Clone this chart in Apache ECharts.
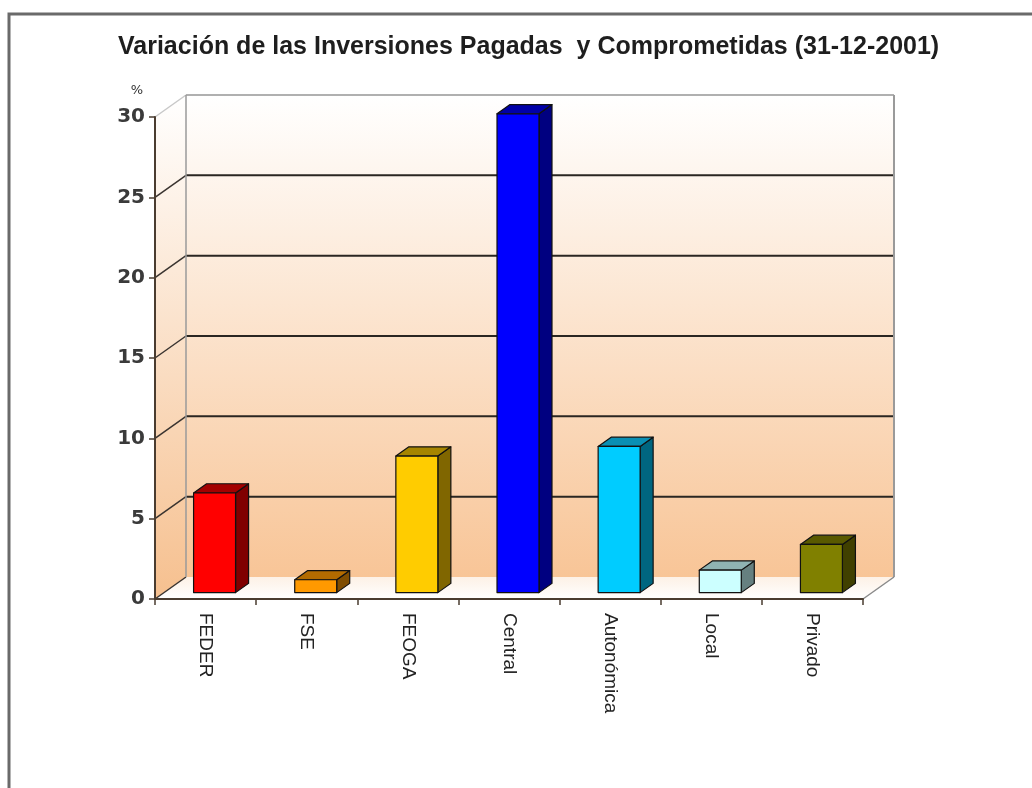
<!DOCTYPE html>
<html>
<head>
<meta charset="utf-8">
<script src="https://cdn.jsdelivr.net/npm/echarts@6/dist/echarts.min.js"></script>
<style>
  html, body { margin: 0; padding: 0; background: #fff; }
  #chart { width: 1032px; height: 788px; }
</style>
</head>
<body>
<div id="chart"></div>
<script>
// data
var categories = ['FEDER', 'FSE', 'FEOGA', 'Central', 'Autonómica', 'Local', 'Privado'];
var values = [6.2, 0.8, 8.5, 29.8, 9.1, 1.4, 3.0];
var yTicks = [0, 5, 10, 15, 20, 25, 30];

// bar palette: front / side / top
var frontColors = ['#ff0000', '#ff9900', '#ffcc00', '#0000ff', '#00ccff', '#ccffff', '#808000'];
var sideColors = ['#800000', '#804d00', '#806600', '#000080', '#006680', '#668080', '#404000'];
var topColors = ['#a30000', '#b36b00', '#a68500', '#0000a8', '#0a8fb3', '#8fb3b3', '#595900'];

// 3d depth vector (px) of the box
var D = [31, -22];

var chart = echarts.init(document.getElementById('chart'));

function renderWalls(params, api) {
	var cs = params.coordSys;
	var x0 = cs.x, x1 = cs.x + cs.width;
	var yTop = api.coord([0, 30])[1];
	var yBot = api.coord([0, 0])[1];
	var children = [];
	var grad = new echarts.graphic.LinearGradient(0, 0, 0, 1, [
		{offset: 0, color: '#ffffff'},
		{offset: 1, color: '#f8c597'}
	]);
	// back wall
	children.push({
		type: 'polygon',
		shape: {points: [[x0 + D[0], yTop + D[1]], [x1 + D[0], yTop + D[1]], [x1 + D[0], yBot + D[1]], [x0 + D[0], yBot + D[1]]]},
		style: {fill: grad, stroke: null}
	});
	// left wall
	children.push({
		type: 'polygon',
		shape: {points: [[x0, yTop], [x0 + D[0], yTop + D[1]], [x0 + D[0], yBot + D[1]], [x0, yBot]]},
		style: {fill: new echarts.graphic.LinearGradient(0, 0, 0, 1, [
			{offset: 0, color: '#ffffff'},
			{offset: 1, color: '#f6c08f'}
		]), stroke: null}
	});
	// floor
	children.push({
		type: 'polygon',
		shape: {points: [[x0, yBot], [x1, yBot], [x1 + D[0], yBot + D[1]], [x0 + D[0], yBot + D[1]]]},
		style: {fill: new echarts.graphic.LinearGradient(0, 0, 0, 1, [
			{offset: 0, color: '#fdf1e6'},
			{offset: 1, color: '#ffffff'}
		]), stroke: null}
	});
	// gridlines on back wall + left wall diagonals
	yTicks.forEach(function (v) {
		var y = api.coord([0, v])[1];
		var light = v === 30;
		if (v > 0) {
			children.push({
				type: 'line',
				shape: {x1: x0 + D[0], y1: y + D[1], x2: x1 + D[0], y2: y + D[1]},
				style: {stroke: light ? '#b0b0b0' : '#2a2622', lineWidth: 2}
			});
		}
		children.push({
			type: 'line',
			shape: {x1: x0, y1: y, x2: x0 + D[0], y2: y + D[1]},
			style: {stroke: light ? '#c8c8c8' : '#3a3430', lineWidth: 1.5}
		});
	});
	// wall edges
	children.push({
		type: 'line',
		shape: {x1: x0 + D[0], y1: yTop + D[1], x2: x0 + D[0], y2: yBot + D[1]},
		style: {stroke: '#9a9a9a', lineWidth: 1.5}
	});
	children.push({
		type: 'line',
		shape: {x1: x1 + D[0], y1: yTop + D[1], x2: x1 + D[0], y2: yBot + D[1]},
		style: {stroke: '#9a9a9a', lineWidth: 2}
	});
	children.push({
		type: 'line',
		shape: {x1: x1, y1: yBot, x2: x1 + D[0], y2: yBot + D[1]},
		style: {stroke: '#8a8a8a', lineWidth: 1.5}
	});
	return {type: 'group', children: children};
}

function renderBar(params, api) {
	var i = api.value(0);
	var band = api.size([1, 0])[0];
	var base = api.coord([i, 0]);
	var top = api.coord([i, api.value(1)]);
	var w = band * 0.415;
	var f = 0.29, b = 0.71;
	var x0 = base[0] - w / 2 + D[0] * f, x1 = x0 + w;
	var yb = base[1] + D[1] * f, yt = top[1] + D[1] * f;
	var dx = D[0] * (b - f), dy = D[1] * (b - f);
	var edge = {stroke: '#111', lineWidth: 1.2, lineJoin: 'round'};
	return {
		type: 'group',
		children: [{
			type: 'polygon',
			shape: {points: [[x1, yt], [x1 + dx, yt + dy], [x1 + dx, yb + dy], [x1, yb]]},
			style: Object.assign({fill: sideColors[i]}, edge)
		}, {
			type: 'polygon',
			shape: {points: [[x0, yt], [x0 + dx, yt + dy], [x1 + dx, yt + dy], [x1, yt]]},
			style: Object.assign({fill: topColors[i]}, edge)
		}, {
			type: 'polygon',
			shape: {points: [[x0, yt], [x1, yt], [x1, yb], [x0, yb]]},
			style: Object.assign({fill: frontColors[i]}, edge)
		}]
	};
}

chart.setOption({
	animation: false,
	title: {
		text: 'Variación de las Inversiones Pagadas  y Comprometidas (31-12-2001)',
		left: 113,
		top: 30,
		textStyle: {
			fontFamily: 'Liberation Sans',
			fontWeight: 'bold',
			fontSize: 25,
			color: '#1e1e1e'
		}
	},
	graphic: [{
		type: 'polyline',
		shape: {points: [[9, 788], [9, 14], [1032, 14]]},
		style: {stroke: '#6a6a6a', lineWidth: 3, fill: null}
	}],
	grid: {
		left: 155,
		right: 169,
		top: 117,
		bottom: 189
	},
	xAxis: {
		type: 'category',
		data: categories,
		boundaryGap: true,
		axisLine: {lineStyle: {color: '#4a3c30', width: 2}},
		axisTick: {show: true, length: 6, lineStyle: {color: '#4a3c30', width: 1.5}},
		axisLabel: {
			rotate: -90,
			margin: 14,
			fontFamily: 'Liberation Sans',
			fontSize: 19,
			color: '#222'
		},
		splitLine: {show: false},
		z: 5
	},
	yAxis: {
		type: 'value',
		min: 0,
		max: 30,
		interval: 5,
		name: '%',
		nameLocation: 'end',
		nameGap: 20,
		nameTextStyle: {
			fontFamily: 'DejaVu Sans',
			fontSize: 13,
			color: '#333',
			align: 'right',
			padding: [0, 12, 0, 0]
		},
		axisLine: {show: true, lineStyle: {color: '#4a3c30', width: 2}},
		axisTick: {show: true, length: 6, lineStyle: {color: '#4a3c30', width: 1.5}},
		axisLabel: {
			margin: 10,
			fontFamily: 'DejaVu Sans',
			fontWeight: 'bold',
			fontSize: 20,
			color: '#3a3a3a'
		},
		splitLine: {show: false},
		z: 5
	},
	series: [{
		type: 'custom',
		name: 'walls',
		renderItem: renderWalls,
		data: [[0, 0]],
		z: 1,
		silent: true
	}, {
		type: 'custom',
		name: 'Variación',
		renderItem: renderBar,
		encode: {x: 0, y: 1},
		data: values.map(function (v, i) { return [i, v]; }),
		z: 3
	}]
});
</script>
</body>
</html>
